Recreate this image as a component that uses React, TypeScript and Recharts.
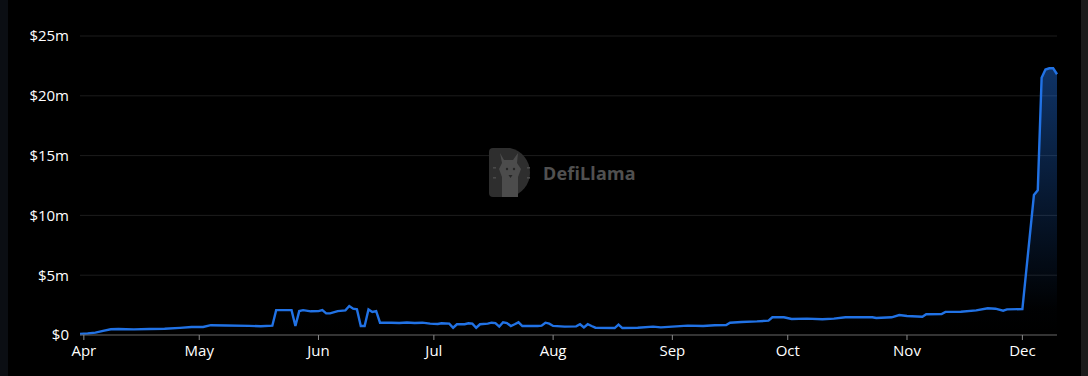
import React from "react";
import { AreaChart, Area, XAxis, YAxis, CartesianGrid } from "recharts";

// Dates of the readings (UTC days)
const dates = [
  "2023-03-31", "2023-04-02", "2023-04-04", "2023-04-06", "2023-04-08", "2023-04-10",
  "2023-04-14", "2023-04-18", "2023-04-22", "2023-04-26", "2023-04-29", "2023-05-02",
  "2023-05-04", "2023-05-08", "2023-05-14", "2023-05-17", "2023-05-20", "2023-05-21",
  "2023-05-24", "2023-05-25", "2023-05-26", "2023-05-27", "2023-05-28", "2023-05-30",
  "2023-06-01", "2023-06-02", "2023-06-03", "2023-06-04", "2023-06-06", "2023-06-08",
  "2023-06-09", "2023-06-10", "2023-06-11", "2023-06-12", "2023-06-13", "2023-06-14",
  "2023-06-15", "2023-06-16", "2023-06-17", "2023-06-20", "2023-06-22", "2023-06-24",
  "2023-06-26", "2023-06-28", "2023-06-30", "2023-07-02", "2023-07-03", "2023-07-05",
  "2023-07-06", "2023-07-07", "2023-07-09", "2023-07-10", "2023-07-11", "2023-07-12",
  "2023-07-13", "2023-07-15", "2023-07-16", "2023-07-17", "2023-07-18", "2023-07-19",
  "2023-07-20", "2023-07-21", "2023-07-22", "2023-07-23", "2023-07-24", "2023-07-28",
  "2023-07-29", "2023-07-30", "2023-07-31", "2023-08-01", "2023-08-04", "2023-08-07",
  "2023-08-08", "2023-08-09", "2023-08-10", "2023-08-11", "2023-08-12", "2023-08-17",
  "2023-08-18", "2023-08-19", "2023-08-23", "2023-08-27", "2023-08-29", "2023-09-01",
  "2023-09-05", "2023-09-09", "2023-09-12", "2023-09-15", "2023-09-16", "2023-09-19",
  "2023-09-23", "2023-09-26", "2023-09-27", "2023-09-30", "2023-10-02", "2023-10-06",
  "2023-10-10", "2023-10-13", "2023-10-16", "2023-10-23", "2023-10-24", "2023-10-28",
  "2023-10-30", "2023-11-01", "2023-11-05", "2023-11-06", "2023-11-10", "2023-11-11",
  "2023-11-15", "2023-11-19", "2023-11-22", "2023-11-24", "2023-11-26", "2023-11-27",
  "2023-12-01", "2023-12-04", "2023-12-05", "2023-12-06", "2023-12-07", "2023-12-08",
  "2023-12-09", "2023-12-10",
];

// TVL in millions of USD
const tvlMillions = [
  0.08, 0.12, 0.2, 0.35, 0.48, 0.5,
  0.47, 0.5, 0.52, 0.6, 0.67, 0.67,
  0.82, 0.8, 0.76, 0.73, 0.78, 2.08,
  2.08, 2.08, 0.75, 2.0, 2.08, 1.98,
  2.0, 2.08, 1.81, 1.81, 2.0, 2.06,
  2.42, 2.2, 2.14, 0.75, 0.75, 2.14,
  1.92, 2.0, 1.03, 1.03, 1.0, 1.05,
  1.0, 1.03, 0.95, 0.92, 0.98, 0.95,
  0.61, 0.9, 0.9, 0.98, 0.95, 0.61,
  0.9, 0.95, 1.03, 1.0, 0.7, 1.06,
  1.0, 0.75, 0.9, 1.06, 0.75, 0.75,
  0.78, 1.03, 0.95, 0.76, 0.7, 0.72,
  0.9, 0.64, 0.9, 0.75, 0.61, 0.58,
  0.86, 0.58, 0.61, 0.7, 0.64, 0.7,
  0.78, 0.75, 0.81, 0.84, 1.03, 1.09,
  1.14, 1.2, 1.48, 1.48, 1.34, 1.37,
  1.32, 1.37, 1.48, 1.48, 1.42, 1.48,
  1.67, 1.59, 1.53, 1.73, 1.76, 1.93,
  1.95, 2.06, 2.23, 2.2, 2.03, 2.14,
  2.17, 11.7, 12.1, 21.5, 22.2, 22.3,
  22.3, 21.8,
];

const monthTickDates = [
  "2023-04-01", "2023-05-01", "2023-06-01", "2023-07-01", "2023-08-01",
  "2023-09-01", "2023-10-01", "2023-11-01", "2023-12-01",
];
const monthLabels = ["Apr", "May", "Jun", "Jul", "Aug", "Sep", "Oct", "Nov", "Dec"];

const yTicks = [0, 5e6, 10e6, 15e6, 20e6, 25e6];
const yTickLabels = ["$0", "$5m", "$10m", "$15m", "$20m", "$25m"];

const toTs = (d: string) => Date.parse(d + "T00:00:00Z");

const data = dates.map((d, i) => ({ t: toTs(d), v: tvlMillions[i] * 1e6 }));
const xTicks = monthTickDates.map(toTs);

const FONT = "'Open Sans', 'Noto Sans', sans-serif";

function Watermark() {
  return (
    <div
      style={{
        position: "absolute",
        left: 489,
        top: 147,
        display: "flex",
        alignItems: "center",
        pointerEvents: "none",
      }}
    >
      <svg width={47} height={51} viewBox="0 0 47 51">
        <path d="M4 1 H21 A25 25 0 0 1 21 50 H4 A4 4 0 0 1 0 46 V5 A4 4 0 0 1 4 1 Z" fill="#2e2e2e" />
        <path d="M11 6 L15 13 L24 13 L29 6 L28 16 L32 22 L29 30 L29 50 L13 50 L13 30 L10 22 L13 16 Z" fill="#4c4c4c" />
        <circle cx={18} cy={22} r={1.2} fill="#252525" />
        <circle cx={25} cy={22} r={1.2} fill="#252525" />
        <path d="M19.5 28 L23.5 28 L21.5 31 Z" fill="#252525" />
        <rect x={4} y={20} width={3} height={1.6} fill="#4a4a4a" />
        <rect x={4} y={30} width={3} height={1.6} fill="#4a4a4a" />
        <rect x={38} y={20} width={3} height={1.6} fill="#4a4a4a" />
        <rect x={38} y={30} width={3} height={1.6} fill="#4a4a4a" />
      </svg>
      <span
        style={{
          marginLeft: 7,
          fontFamily: "'Noto Sans', sans-serif",
          fontWeight: 700,
          fontSize: 18,
          color: "#505050",
          letterSpacing: 0.2,
        }}
      >
        DefiLlama
      </span>
    </div>
  );
}

export default function App() {
  return (
    <div
      style={{
        position: "fixed",
        left: 0,
        top: 0,
        width: 1088,
        height: 376,
        background: "#000000",
        overflow: "hidden",
      }}
    >
      <div style={{ position: "absolute", left: 0, top: 0, width: 8, height: 376, background: "#0b0e13" }} />
      <div style={{ position: "absolute", left: 1081, top: 0, width: 7, height: 376, background: "#1b1b1b" }} />
      <div style={{ position: "absolute", left: 0, top: 0 }}>
        <AreaChart
          width={1088}
          height={376}
          data={data}
          margin={{ top: 36, right: 31, bottom: 0, left: 0 }}
        >
          <defs>
            <linearGradient id="tvlFill" x1="0" y1="0" x2="0" y2="1">
              <stop offset="0%" stopColor="#2172E5" stopOpacity={0.75} />
              <stop offset="90%" stopColor="#2172E5" stopOpacity={0.02} />
              <stop offset="100%" stopColor="#2172E5" stopOpacity={0} />
            </linearGradient>
          </defs>
          <CartesianGrid vertical={false} stroke="#1c1c1c" />
          <XAxis
            dataKey="t"
            type="number"
            scale="time"
            domain={["dataMin", "dataMax"]}
            ticks={xTicks}
            tickFormatter={(v: number) => monthLabels[xTicks.indexOf(v)] ?? ""}
            height={41}
            axisLine={{ stroke: "#5a5a5a" }}
            tickLine={{ stroke: "#8a8a8a" }}
            tickSize={5}
            tickMargin={5}
            tick={{ fill: "#ffffff", fontSize: 15, fontFamily: FONT }}
            interval={0}
          />
          <YAxis
            type="number"
            domain={[0, 25e6]}
            ticks={yTicks}
            tickFormatter={(v: number) => yTickLabels[yTicks.indexOf(v)] ?? ""}
            width={80}
            axisLine={false}
            tickLine={false}
            tickSize={6}
            tickMargin={5}
            tick={{ fill: "#ffffff", fontSize: 15, fontFamily: FONT }}
            interval={0}
          />
          <Area
            type="linear"
            dataKey="v"
            stroke="#2172E5"
            strokeWidth={2.4}
            fill="url(#tvlFill)"
            isAnimationActive={false}
            dot={false}
            activeDot={false}
          />
        </AreaChart>
      </div>
      <Watermark />
    </div>
  );
}
